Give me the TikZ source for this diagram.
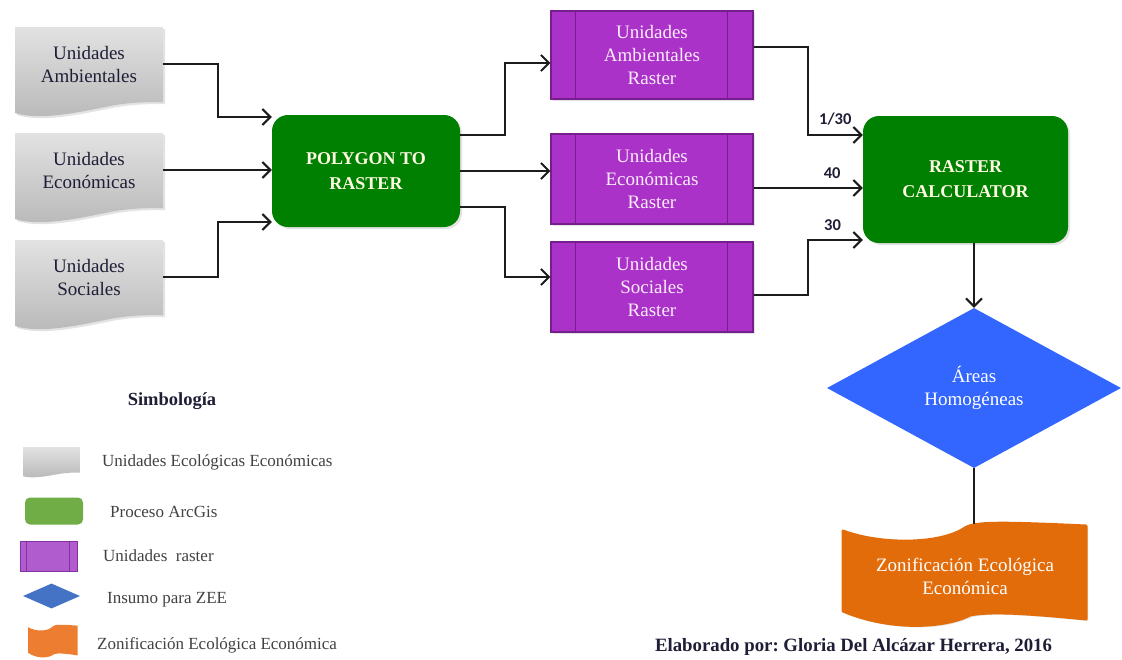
\documentclass[tikz,border=0pt]{standalone}
\usepackage{fontspec}
\setmainfont{Liberation Serif}
\newfontfamily\weightfont{Carlito}
\usetikzlibrary{arrows.meta,shapes.geometric,calc,shadows,backgrounds}
\frenchspacing

% palette
\definecolor{inkline}{RGB}{28,28,28}
\definecolor{navyink}{RGB}{30,30,55}
\definecolor{docA}{RGB}{226,226,226}
\definecolor{docB}{RGB}{184,184,184}
\definecolor{procgreen}{RGB}{0,128,0}
\definecolor{proctext}{RGB}{255,250,228}
\definecolor{rastpurple}{RGB}{170,50,200}
\definecolor{rastedge}{RGB}{118,30,140}
\definecolor{rasttext}{RGB}{250,236,250}
\definecolor{insblue}{RGB}{51,102,255}
\definecolor{zeeorange}{RGB}{227,108,10}
\definecolor{legink}{RGB}{66,66,66}
\definecolor{leggreen}{RGB}{112,173,71}
\definecolor{legpurple}{RGB}{176,92,206}
\definecolor{legpurpleedge}{RGB}{132,50,160}
\definecolor{legblue}{RGB}{68,114,196}
\definecolor{legorange}{RGB}{237,125,49}

\newcommand\lblsize{\fontsize{19}{23}\selectfont}
\newcommand\procsize{\fontsize{18}{25}\selectfont\bfseries}
\newcommand\legsize{\fontsize{17}{20}\selectfont}
\newcommand\wtsize{\weightfont\bfseries\fontsize{16.5}{18}\selectfont}

\tikzset{
  softshadow/.style={drop shadow={opacity=0.22, shadow xshift=2pt, shadow yshift=-2pt}},
  docextra/.style={softshadow},
  docfill/.style={top color=docA, bottom color=docB},
  zeefill/.style={fill=zeeorange, draw=zeeorange, line width=3pt, line join=round},
  % document sheet with a wavy lower edge, drawn around its centre
  pics/docsheet/.style={code={
    \path[docfill, docextra] (-74,-37) -- (74,-37) -- (74,38)
      .. controls (61,38) and (41,38) .. (21,42)
      .. controls (-9,48) and (-49,57) .. (-74,49) -- cycle;}},
  % waved band (top and bottom edges rise to the right)
  pics/zeeband/.style={code={
    \path[zeefill, docextra] (-122,-43)
      .. controls (-85,-29) and (-25,-29) .. (0,-46)
      .. controls (10,-52) and (35,-52) .. (121,-48)
      -- (121,45)
      .. controls (60,39) and (25,37) .. (5,41)
      .. controls (-20,54) and (-75,57) .. (-122,37) -- cycle;}},
  every node/.style={inner sep=0pt, align=center},
  docnode/.style={minimum width=148pt, minimum height=74pt, text=navyink, font=\lblsize},
  procnode/.style={rectangle, rounded corners=16pt, fill=procgreen, text=proctext,
    font=\procsize, softshadow},
  rastnode/.style={rectangle, fill=rastpurple, draw=rastedge, line width=1.2pt,
    minimum width=202pt, text=rasttext, font=\lblsize, softshadow},
  rastrule/.style={draw=rastedge, line width=1.2pt},
  insnode/.style={diamond, fill=insblue, minimum width=294pt, minimum height=160pt,
    text=white, font=\lblsize},
  zeenode/.style={minimum width=244pt, minimum height=90pt, text=white, font=\lblsize},
  conn/.style={draw=inkline, line width=2pt},
  arr/.style={conn, -{Straight Barb[length=8pt,width=16pt]}},
  wt/.style={above=8.5pt, font=\wtsize, text=navyink},
  legtext/.style={anchor=west, font=\legsize, text=legink, align=left},
}

\begin{document}
\begin{tikzpicture}[x=1pt,y=-1pt]
\useasboundingbox (0,0) rectangle (1122,659);

% input layers
\node[docnode] (ua) at (89,64)  {Unidades\\Ambientales};
\node[docnode] (ue) at (89,170) {Unidades\\Económicas};
\node[docnode] (us) at (89,277) {Unidades\\Sociales};

% conversion step
\node[procnode, minimum width=188pt, minimum height=112pt] (pr) at (366,171) {POLYGON TO\\RASTER};

% raster layers
\node[rastnode, minimum height=88pt] (r1) at (652,55)  {Unidades\\Ambientales\\Raster};
\node[rastnode, minimum height=90pt] (r2) at (652,179) {Unidades\\Económicas\\Raster};
\node[rastnode, minimum height=90pt] (r3) at (652,287) {Unidades\\Sociales\\Raster};
\foreach \r in {r1,r2,r3} {
  \draw[rastrule] ($(\r.north west)+(25,0)$) -- ($(\r.south west)+(25,0)$);
  \draw[rastrule] ($(\r.north east)+(-26,0)$) -- ($(\r.south east)+(-26,0)$);
}

% weighted overlay
\node[procnode, minimum width=205pt, minimum height=127pt] (rc) at (965.5,179.5) {RASTER\\CALCULATOR};

% result
\node[insnode] (dia) at (974,388) {Áreas\\Homogéneas};
\node[zeenode] (zo) at (965,576) {Zonificación Ecológica\\Económica};
\coordinate (zotop) at ($(zo.center)+(0,-52)$);

\begin{scope}[on background layer]
  \fill[white] (0,0) rectangle (1122,659);
  \pic at (ua.center) {docsheet};
  \pic at (ue.center) {docsheet};
  \pic at (us.center) {docsheet};
  \pic at ($(zo.center)+(0,-2)$) {zeeband};
\end{scope}

% connectors
\draw[arr] (ua.east) -- ++(55,0) |- ($(pr.west)+(0,-54)$);
\draw[arr] (ue.east) -- (ue.east -| pr.west);
\draw[arr] (us.east) -- ++(55,0) |- ($(pr.west)+(0,51)$);

\draw[arr] ($(pr.east)+(0,-36)$) -- ++(45,0) |- ($(r1.west)+(0,8)$);
\draw[arr] (pr.east) -- (pr.east -| r2.west);
\draw[arr] ($(pr.east)+(0,36)$) -- ++(45,0) |- ($(r3.west)+(0,-10)$);

\draw[arr] ($(r1.east)+(0,-8)$) -| ($(rc.west)+(-55,-44.5)$)
  -- node[wt] (w1) {1/30} ($(rc.west)+(0,-44.5)$);
\draw[arr] ($(r2.east)+(0,9)$) -- node[wt, pos=0.72] (w2) {40} ($(rc.west)+(0,8.5)$);
\draw[arr] ($(r3.east)+(0,8)$) -| ($(rc.west)+(-55,60.5)$)
  -- node[wt, pos=0.45] (w3) {30} ($(rc.west)+(0,60.5)$);

\draw[arr] (rc.south -| dia.north) -- (dia.north);
\draw[conn, line width=1.6pt] (dia.south) -- (dia.south |- zotop);

% legend
\node[font=\fontsize{18.5}{20}\selectfont\bfseries, text=navyink] (legtitle) at (172,401) {Simbología};

\pic[xscale=0.385, yscale=0.34, docextra/.style={}] at (51.5,459.6) {docsheet};
\node[rectangle, rounded corners=5pt, fill=leggreen, minimum width=58pt, minimum height=27pt] (lg2) at (54,511) {};
\node[rectangle, fill=legpurple, draw=legpurpleedge, line width=0.8pt, minimum width=57pt, minimum height=30pt] (lg3) at (48.5,556) {};
\draw[draw=legpurpleedge, line width=0.8pt] ($(lg3.north west)+(7,0)$) -- ($(lg3.south west)+(7,0)$);
\draw[draw=legpurpleedge, line width=0.8pt] ($(lg3.north east)+(-8,0)$) -- ($(lg3.south east)+(-8,0)$);
\node[diamond, fill=legblue, minimum width=57pt, minimum height=25pt] (lg4) at (51.5,596) {};
\pic[xscale=0.204, yscale=0.32, docextra/.style={}, zeefill/.style={fill=legorange}] at (53,641) {zeeband};

\node[legtext] (lt1) at (102,462) {Unidades Ecológicas Económicas};
\node[legtext] (lt2) at (110,512) {Proceso ArcGis};
\node[legtext] (lt3) at (103,556) {Unidades\ \ raster};
\node[legtext] (lt4) at (107,600) {Insumo para ZEE};
\node[legtext] (lt5) at (97,645)  {Zonificación Ecológica Económica};

% credit line
\node[font=\fontsize{18.8}{20}\selectfont\bfseries, text=navyink] (credit) at (853.5,647)
  {Elaborado por: Gloria Del Alcázar Herrera, 2016};
\end{tikzpicture}
\end{document}
